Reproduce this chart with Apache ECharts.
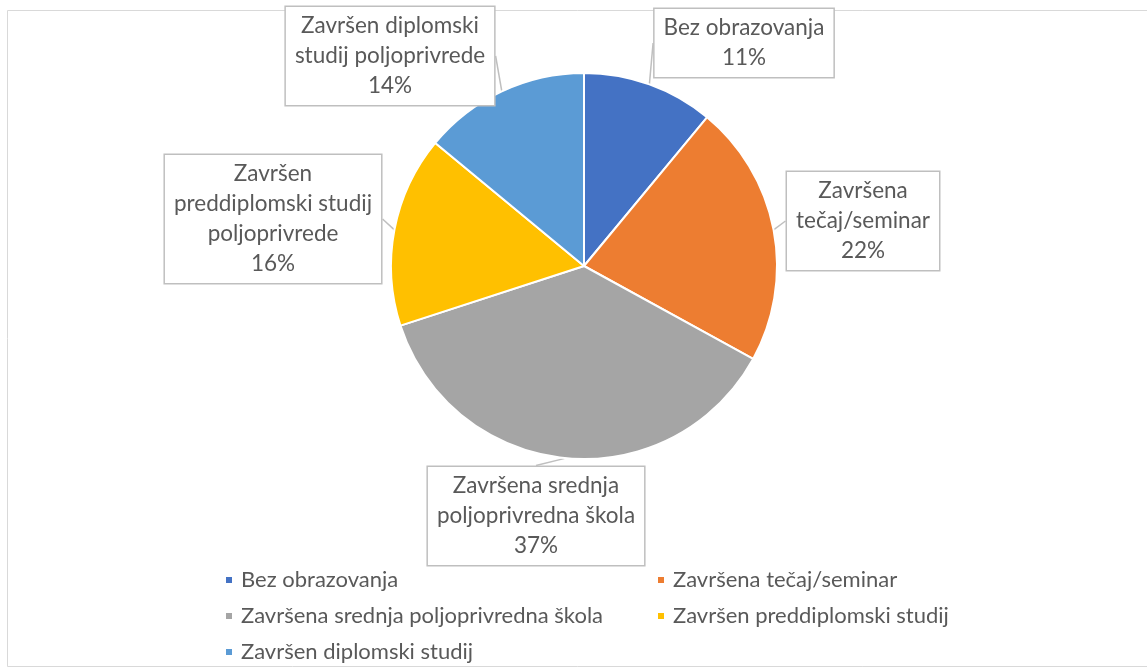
<!DOCTYPE html>
<html>
<head>
<meta charset="utf-8">
<script src="https://cdn.jsdelivr.net/npm/echarts@6/dist/echarts.min.js"></script>
<style>
  html, body { margin: 0; padding: 0; background: #fff; }
  #chart { width: 1147px; height: 668px; }
</style>
</head>
<body>
<div id="chart"></div>
<script>
    // kategorije (legenda) i vrijednosti u postocima
    var categories = ['Bez obrazovanja', 'Završena tečaj/seminar', 'Završena srednja poljoprivredna škola',
        'Završen preddiplomski studij', 'Završen diplomski studij'];
    var values = [11, 22, 37, 16, 14];
    // tekst oznaka u okvirima
    var labelTexts = ['Bez obrazovanja', 'Završena\ntečaj/seminar', 'Završena srednja\npoljoprivredna škola',
        'Završen\npreddiplomski studij\npoljoprivrede', 'Završen diplomski\nstudij poljoprivrede'];
    var colors = ['#4472C4', '#ED7D31', '#A5A5A5', '#FFC000', '#5B9BD5'];

    // središta okvira oznaka
    var labelPos = [[744, 43], [863, 221], [536, 516], [273, 219], [390, 56]];

    var chart = echarts.init(document.getElementById('chart'));
    var font = 'Lato, "Liberation Sans", sans-serif';

    var legendText = { fontFamily: font, fontSize: 22, color: '#595959', lineHeight: 22, padding: [0, 0, 0, 3] };

    var option = {
        color: colors,
        animation: false,
        graphic: [{
            type: 'rect',
            shape: { x: 7.5, y: 10.5, width: 1145, height: 656 },
            style: { fill: 'none', stroke: '#d9d9d9', lineWidth: 1 },
            silent: true
        }],
        legend: [
            {
                orient: 'vertical',
                left: 219,
                top: 564,
                height: 120,
                icon: 'rect',
                itemWidth: 8,
                itemHeight: 8,
                itemGap: 14,
                data: [categories[0], categories[2], categories[4]],
                textStyle: legendText
            },
            {
                orient: 'vertical',
                left: 651,
                top: 564,
                height: 120,
                icon: 'rect',
                itemWidth: 8,
                itemHeight: 8,
                itemGap: 14,
                data: [categories[1], categories[3]],
                textStyle: legendText
            }
        ],
        series: [
            {
                type: 'pie',
                center: [584, 266],
                radius: 193,
                startAngle: 90,
                clockwise: true,
                itemStyle: { borderColor: '#fff', borderWidth: 2 },
                label: {
                    show: true,
                    formatter: function (p) {
                        return labelTexts[p.dataIndex] + '\n' + p.value + '%';
                    },
                    fontFamily: font,
                    fontSize: 22.5,
                    lineHeight: 30,
                    color: '#595959',
                    align: 'center',
                    backgroundColor: '#fff',
                    borderColor: '#bfbfbf',
                    borderWidth: 1.5,
                    padding: [4, 9, 4, 9]
                },
                labelLine: {
                    show: true,
                    length: 6,
                    length2: 0,
                    lineStyle: { color: '#bfbfbf', width: 1.5 }
                },
                labelLayout: function (params) {
                    var p = labelPos[params.dataIndex];
                    return { x: p[0], y: p[1], align: 'center', verticalAlign: 'middle' };
                },
                data: categories.map(function (c, i) {
                    return { name: c, value: values[i] };
                })
            }
        ]
    };

    chart.setOption(option);
</script>
</body>
</html>
